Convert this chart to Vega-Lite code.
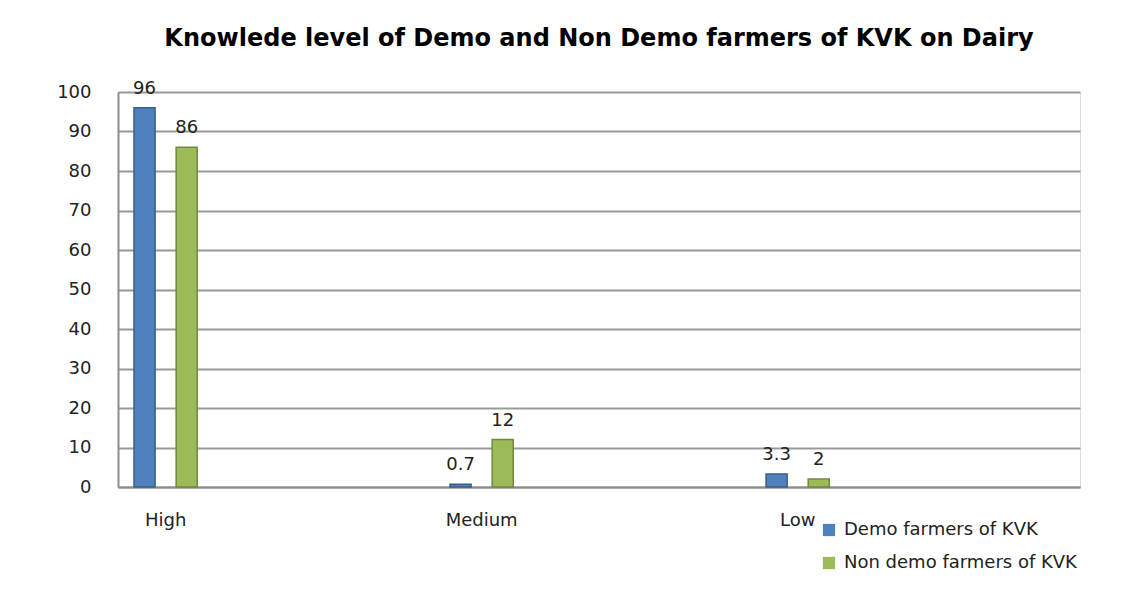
{
  "$schema": "https://vega.github.io/schema/vega-lite/v6.json",
  "width": 962,
  "height": 395,
  "autosize": {"type": "none"},
  "padding": {"left": 118, "top": 92, "right": 66, "bottom": 105},
  "background": "white",
  "title": {
    "text": "Knowlede level of Demo and Non Demo farmers of KVK on Dairy",
    "font": "DejaVu Sans",
    "fontSize": 24,
    "fontWeight": "bold",
    "color": "#000000",
    "anchor": "middle",
    "offset": 29
  },
  "data": {
    "values": [
      {"level": "High", "group": "Demo farmers of KVK", "value": 96},
      {"level": "High", "group": "Non demo farmers of KVK", "value": 86},
      {"level": "Medium", "group": "Demo farmers of KVK", "value": 0.7},
      {"level": "Medium", "group": "Non demo farmers of KVK", "value": 12},
      {"level": "Low", "group": "Demo farmers of KVK", "value": 3.3},
      {"level": "Low", "group": "Non demo farmers of KVK", "value": 2}
    ]
  },
  "encoding": {
    "x": {
      "field": "level",
      "type": "nominal",
      "sort": ["High", "Medium", "Low"],
      "scale": {"paddingInner": 0.8, "paddingOuter": 0.422, "align": 0.06},
      "axis": {
        "title": null,
        "labelAngle": 0,
        "labelFont": "DejaVu Sans",
        "labelFontSize": 18,
        "labelColor": "#222222",
        "labelPadding": 24,
        "ticks": false,
        "domainColor": "#8c8c8c",
        "domainWidth": 2,
        "grid": false
      }
    },
    "xOffset": {
      "field": "group",
      "type": "nominal",
      "sort": ["Demo farmers of KVK", "Non demo farmers of KVK"],
      "scale": {"paddingInner": 0.5, "paddingOuter": 0}
    },
    "y": {
      "field": "value",
      "type": "quantitative",
      "scale": {"domain": [0, 100], "nice": false},
      "axis": {
        "title": null,
        "values": [0, 10, 20, 30, 40, 50, 60, 70, 80, 90, 100],
        "labelFont": "DejaVu Sans",
        "labelFontSize": 18,
        "labelColor": "#222222",
        "labelPadding": 27,
        "ticks": false,
        "domainColor": "#8c8c8c",
        "domainWidth": 2,
        "gridColor": "#9a9a9a",
        "gridWidth": 2
      }
    }
  },
  "layer": [
    {
      "mark": {"type": "bar", "strokeWidth": 1.5},
      "encoding": {
        "color": {
          "field": "group",
          "type": "nominal",
          "scale": {
            "domain": ["Demo farmers of KVK", "Non demo farmers of KVK"],
            "range": ["#4f81bd", "#9bbb59"]
          },
          "legend": {
            "title": null,
            "orient": "none",
            "legendX": 702,
            "legendY": 429,
            "symbolType": "square",
            "symbolSize": 150,
            "symbolStrokeWidth": 0,
            "labelFont": "DejaVu Sans",
            "labelFontSize": 18,
            "labelColor": "#222222",
            "labelOffset": 6,
            "labelLimit": 0,
            "rowPadding": 15
          }
        },
        "stroke": {
          "field": "group",
          "type": "nominal",
          "scale": {
            "domain": ["Demo farmers of KVK", "Non demo farmers of KVK"],
            "range": ["#385d8a", "#71893f"]
          },
          "legend": null
        }
      }
    },
    {
      "mark": {"type": "text", "dy": -19, "font": "DejaVu Sans", "fontSize": 18, "color": "#222222"},
      "encoding": {
        "text": {"field": "value", "type": "quantitative"}
      }
    }
  ]
}
